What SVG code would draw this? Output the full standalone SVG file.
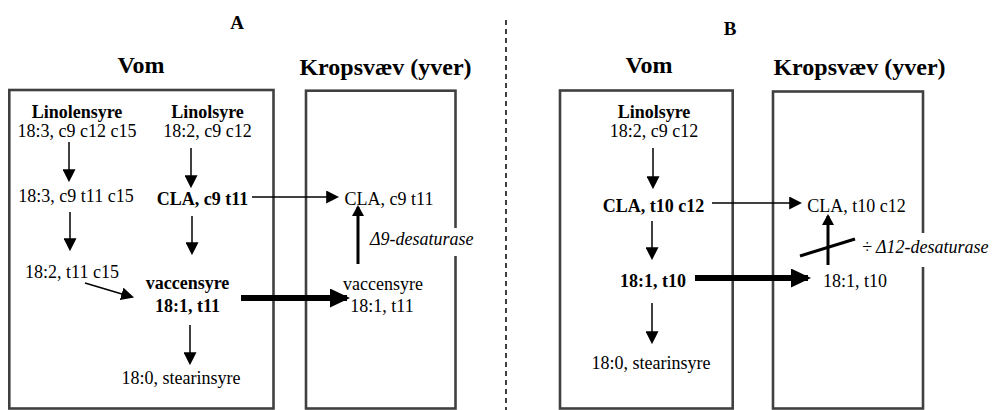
<svg xmlns="http://www.w3.org/2000/svg" width="996" height="410" viewBox="0 0 996 410" font-family="'Liberation Serif', 'DejaVu Serif', serif">
<defs>
<style>
text{font-family:'Liberation Serif',serif;fill:#000;text-anchor:middle}
.t{font-size:18px}
.b{font-size:18px;font-weight:bold}
.h{font-size:24px;font-weight:bold}
.p{font-size:19px;font-weight:bold}
.i{font-size:18px;font-style:italic;text-anchor:start}
.box{fill:none;stroke:#404040;stroke-width:2.6}
.a{stroke:#000;stroke-width:1.5;fill:none;marker-end:url(#ah)}
.am{stroke:#000;stroke-width:3;fill:none;marker-end:url(#ahm)}
.ab{stroke:#000;stroke-width:6;fill:none;marker-end:url(#ahb)}
.bg{fill:#fff}
</style>
<marker id="ah" markerUnits="userSpaceOnUse" markerWidth="13" markerHeight="13" viewBox="0 0 12 12" refX="10" refY="6" orient="auto"><path d="M0,0 L12,6 L0,12 z" fill="#000"/></marker>
<marker id="ahm" markerUnits="userSpaceOnUse" markerWidth="11" markerHeight="12" viewBox="0 0 11 12" refX="9" refY="6" orient="auto"><path d="M0,0 L11,6 L0,12 z" fill="#000"/></marker>
<marker id="ahb" markerUnits="userSpaceOnUse" markerWidth="20" markerHeight="19" viewBox="0 0 20 19" refX="17" refY="9.5" orient="auto"><path d="M0,0 L20,9.5 L0,19 z" fill="#000"/></marker>
</defs>
<g id="divider"><line x1="506" y1="20" x2="506" y2="410" stroke="#000" stroke-width="1.5" stroke-dasharray="5,4"/></g>
<g id="panelA">
<text class="p" x="237" y="29" font-family="Liberation Serif">A</text>
<g id="vomA"><rect class="box" x="9.3" y="90" width="264.2" height="318.5"/><text class="h" x="141" y="73">Vom</text></g>
<g id="kropA"><rect class="box" x="306" y="90.7" width="149.5" height="317.8"/><text class="h" x="385.5" y="75">Kropsvæv (yver)</text></g>
<g id="linolensyreA"><text class="b" x="77" y="118">Linolensyre</text><text class="t" x="77" y="137">18:3, c9 c12 c15</text></g>
<g id="linolsyreA"><text class="b" x="207.5" y="118">Linolsyre</text><text class="t" x="207.5" y="137">18:2, c9 c12</text></g>
<g id="c9t11c15A"><text class="t" x="76" y="202">18:3, c9 t11 c15</text></g>
<g id="claRumenA"><text class="b" x="202.5" y="205">CLA, c9 t11</text></g>
<g id="t11c15A"><text class="t" x="72" y="278">18:2, t11 c15</text></g>
<g id="vaccRumenA"><text class="b" x="187.5" y="289">vaccensyre</text><text class="b" x="187.5" y="312">18:1, t11</text></g>
<g id="stearinA"><text class="t" x="181" y="384">18:0, stearinsyre</text></g>
<g id="claTissueA"><text class="t" x="389" y="205">CLA, c9 t11</text></g>
<g id="vaccTissueA"><text class="t" x="383" y="290">vaccensyre</text><text class="t" x="382" y="312">18:1, t11</text></g>
<g id="d9A"><rect class="bg" x="368" y="228" width="112" height="28"/><text class="i" x="370" y="245">Δ9-desaturase</text></g>
</g>
<g id="panelB">
<text class="p" x="730" y="35">B</text>
<g id="vomB"><rect class="box" x="560" y="90.5" width="172.7" height="318"/><text class="h" x="649" y="73">Vom</text></g>
<g id="kropB"><rect class="box" x="773" y="91.5" width="150" height="317"/><text class="h" x="859.5" y="75">Kropsvæv (yver)</text></g>
<g id="linolsyreB"><text class="b" x="654" y="118">Linolsyre</text><text class="t" x="654" y="137">18:2, c9 c12</text></g>
<g id="claRumenB"><text class="b" x="653.5" y="212">CLA, t10 c12</text></g>
<g id="t10RumenB"><text class="b" x="653" y="287">18:1, t10</text></g>
<g id="stearinB"><text class="t" x="651" y="369">18:0, stearinsyre</text></g>
<g id="claTissueB"><text class="t" x="856.5" y="212">CLA, t10 c12</text></g>
<g id="t10TissueB"><text class="t" x="855" y="287">18:1, t10</text></g>
<g id="d12B"><rect class="bg" x="860" y="233" width="136" height="34"/><text class="i" x="862" y="253">÷ Δ12-desaturase</text></g>
</g>
<g id="connectors">
<line class="a" x1="69" y1="142" x2="69" y2="180"/>
<line class="a" x1="70" y1="212" x2="70" y2="249"/>
<line class="a" x1="85" y1="283" x2="132" y2="297"/>
<line class="a" x1="191" y1="148" x2="191" y2="186"/>
<line class="a" x1="192" y1="216" x2="192" y2="253"/>
<line class="a" x1="190" y1="325" x2="190" y2="363"/>
<line class="a" x1="252" y1="197" x2="337" y2="197"/>
<line class="ab" x1="241" y1="298" x2="347" y2="298"/>
<line class="am" x1="358" y1="264" x2="358" y2="207"/>
<line class="a" x1="653" y1="148" x2="653" y2="187"/>
<line class="a" x1="652" y1="221" x2="652" y2="258"/>
<line class="a" x1="652" y1="303" x2="652" y2="342"/>
<line class="a" x1="712" y1="203" x2="800" y2="203"/>
<line class="ab" x1="695" y1="278" x2="808" y2="278"/>
<line class="am" x1="828" y1="265" x2="828" y2="216"/>
<line x1="800" y1="256" x2="855" y2="239" stroke="#000" stroke-width="3"/>
</g>
</svg>
